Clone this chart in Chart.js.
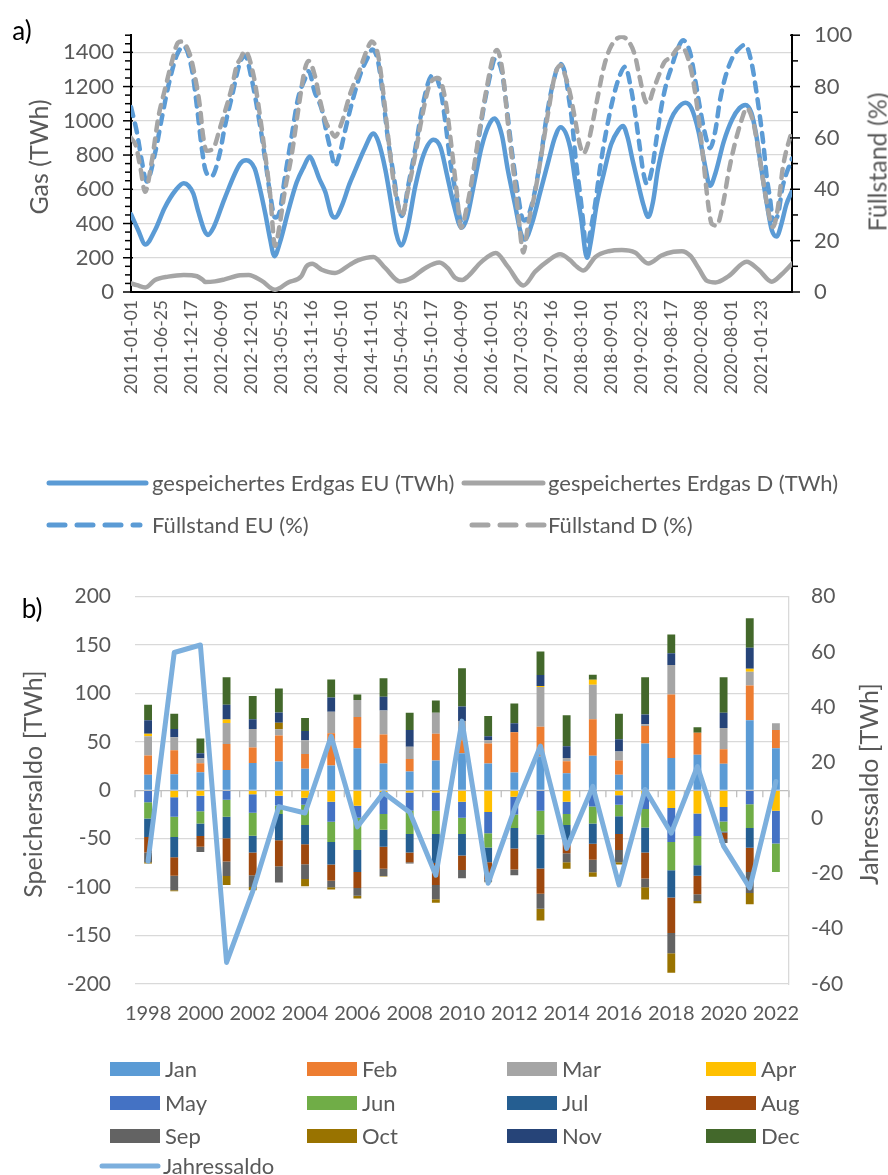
<!DOCTYPE html>
<html><head><meta charset="utf-8">
<script src="https://cdn.jsdelivr.net/npm/chart.js@4.4.1/dist/chart.umd.min.js"></script>
<style>
html,body{margin:0;padding:0;background:#fff;}
body{width:888px;height:1175px;position:relative;overflow:hidden;font-family:Lato,'Liberation Sans',sans-serif;color:#595959;}
canvas{position:absolute;left:0;}
#c1{top:0;}
#c2{top:560px;}
.rot{position:absolute;transform:translate(-50%,-50%) rotate(-90deg);white-space:nowrap;font-size:25px;color:#595959;line-height:1;}
.lg{position:absolute;font-size:22px;color:#595959;white-space:nowrap;line-height:1;transform:translateY(-50%);}
.lab{position:absolute;font-size:26px;color:#000;line-height:1;transform:translate(-50%,-50%);}
.sw{position:absolute;width:50px;height:14px;transform:translateY(-50%);}
svg{position:absolute;left:0;top:0;}
</style></head><body>
<canvas id="c1" width="888" height="420"></canvas>
<canvas id="c2" width="888" height="480"></canvas>
<div class="lab" style="left:22px;top:30px">a)</div>
<div class="lab" style="left:32px;top:608px">b)</div>
<div class="rot" style="left:38px;top:157px">Gas (TWh)</div>
<div class="rot" style="left:877px;top:162px">Füllstand (%)</div>
<div class="rot" style="left:32px;top:784px">Speichersaldo [TWh]</div>
<div class="rot" style="left:868px;top:784px">Jahressaldo [TWh]</div>
<svg width="888" height="1175">
 <line x1="49" y1="483" x2="146" y2="483" stroke="#5B9BD5" stroke-width="5" stroke-linecap="round"/>
 <line x1="464" y1="483" x2="543" y2="483" stroke="#A5A5A5" stroke-width="5" stroke-linecap="round"/>
 <line x1="49" y1="525" x2="140" y2="525" stroke="#5B9BD5" stroke-width="5" stroke-linecap="round" stroke-dasharray="16 12"/>
 <line x1="472" y1="525" x2="545" y2="525" stroke="#A5A5A5" stroke-width="5" stroke-linecap="round" stroke-dasharray="16 12"/>
 <line x1="102" y1="1166" x2="158" y2="1166" stroke="#7CAFDD" stroke-width="5" stroke-linecap="round"/>
</svg>
<div class="lg" style="left:152px;top:483px">gespeichertes Erdgas EU (TWh)</div>
<div class="lg" style="left:548px;top:483px">gespeichertes Erdgas D (TWh)</div>
<div class="lg" style="left:152px;top:525px">Füllstand EU (%)</div>
<div class="lg" style="left:548px;top:525px">Füllstand D (%)</div>
<div id="leg2"></div>
<div class="lg" style="left:163px;top:1166px">Jahressaldo</div>
<script>
// ---------- chart a) data ----------
const xTickLabels = ['2011-01-01','2011-06-25','2011-12-17','2012-06-09','2012-12-01','2013-05-25','2013-11-16','2014-05-10','2014-11-01','2015-04-25','2015-10-17','2016-04-09','2016-10-01','2017-03-25','2017-09-16','2018-03-10','2018-09-01','2019-02-23','2019-08-17','2020-02-08','2020-08-01','2021-01-23'];
const weeksPerTick = 25;   // weeks between date labels
const lastWeek = 550.8;    // weeks since 2011-01-01 at the right edge

const euGasWeeks = [0,6,12,20,28,37,44,48,52,56,61,64,69,78,91,96,103,107.5,112,116,119.5,124,131,138,144,149,153,157,162,167,170,176,182,187,195,202,206,212,217,221,225,230,237,244,252,258,263,269,275.5,280,285,292,298,303,309,314,320,325,328,334,341,348,353,358,366,370,375,380,383,388,394,400,406,410,414,418,423,427,431,435,439,445,450,455,462,467,473,478,482.5,487,494,501,507,512,517,521,525,530,534,538,542,546,550.8];
const euGas = [454,361,278,361,491,593,635,620,574,472,361,333,380,546,750,770,722,602,454,306,209,287,472,639,731,791,735,660,583,454,435,509,630,713,843,926,880,713,509,343,272,361,620,806,889,843,694,509,375,435,602,843,972,1013,917,713,509,340,306,398,583,769,898,963,843,657,435,200,287,509,694,861,944,969,898,769,620,509,439,528,713,898,1009,1070,1106,1074,935,750,620,694,880,1009,1074,1093,1046,917,732,509,361,324,398,509,590];

const dGasWeeks = [0,5,12,20,31,44,55,60,62,70,78,91,98,109,120,131,142,146,151,159,170,182.5,189,202,212,224,234,245,257,264,270,276,281,292,304,314,327,337,348,357.5,366,370,377,387,398,409,420,431,442,452,459,466,473,480,487,498,513,523,534,542,550.8];
const dGas = [50,40,27,70,90,100,92,70,58,62,74,98,100,65,13,56,93,148,165,130,111,160,185,205,139,62,83,139,172,139,83,70,93,176,228,148,38,120,185,220,185,157,125,205,238,246,231,167,213,235,238,212,139,65,56,93,176,130,60,102,165];

const euPctWeeks = [0,5,9,13,20,26,31,38,44,51,55,59,62,67,74,78,84,91,95,100.5,107.5,112,116,120,124,128,134,139,145,148,153,159,163,167,170,174,179,184,191,198,201,206,210,214,219,223,226,231,237,242,248,252,258,262,266,271,275.5,280,284,289.4,295,300.6,303,309,313,317,321.4,325.6,328,334,341,346.4,352,357.5,362,365,367,371,374,377,379.5,382.5,386.7,391,396.4,402,407.5,411.7,417,420,424,427,430,434,438,442,446,450,455,460,466,470,474,478,482.5,486.7,490.8,495,500.6,506,511.7,517,521,524,527,529.7,532.5,535,539,543,550.8];
const euPct = [72,62,51,43,54,68.5,80,92,95.7,86,72,56,47.5,45,54,64,76,89.5,92,83,65,51,38,29,31.5,44,61,75,83,86,78,71,62,54,49,54,64,73.5,84.6,92,94.4,89.5,76,60,45,33,29.6,41.4,56,70,82,84.6,78.4,66,51,37.7,27,30,41.4,58.6,74.7,87,90.7,85.8,72.2,56.2,41.4,29.5,27.8,34,51,68.5,82,88.9,84.6,75,68.5,50,39,26.5,15,22.8,34,48.8,63.6,76,84.6,87.7,78.4,69.8,56.2,46.3,42,47.5,60,72.2,81,87,94,98,93,83,72,62.3,56,62.3,74.7,83.3,90.7,94.4,96.3,89.5,78.4,68.5,57.4,45,36.4,28,30,41,52];

const dPctWeeks = [0,4,8,11.7,17,23,28,34,39,42,49,53,57.5,60,63,68.6,74,78,84,88,91,95,102,107.5,111.7,116,120,124,128,134,139,145,148,153,157.5,161.7,167,170,175.6,182.5,191,196.7,200.6,206,210,214.4,218.6,223,225.6,231,237,242,249,256,262,267.2,271.4,275,279.7,285,290.6,296,301.7,305,310,314,318.6,323,325.6,327,331,336.7,342,348,353.3,358,362,366,370,374,377,380.6,384.7,388.9,394.4,400,409,415.6,420,424,428.3,431,435,440,444.4,450,455.6,459,464.4,468.6,472.8,477,481,484,488,493.6,497.8,503,509,513,518.6,522.8,527,531,535,539,543.3,550.8];
const dPct = [60,57,48,39,50,68.5,78.4,89.5,97,97.5,92.6,84.6,72,61,55,56,63.6,69.8,79.6,88,90.7,93.8,84.6,68.5,53.7,37.7,18,26.5,38.9,53.7,69.8,87,90,84.6,74.7,67,62.3,60.5,66,77,87,94.4,97.5,92,78.4,60,43.8,32.7,29.6,40,53.7,67,80.9,83.3,74.7,56,39,25,32.7,46.3,63.6,78.4,91.4,94.2,84.6,66,47.5,29,18,15.4,26.5,38.9,53.7,71,84.6,88.3,84,77,67.3,57.4,54,57.4,66,76,88.3,95.7,99.4,96.9,92,83.3,74.7,73.5,78.4,84.6,89.5,91.4,95,95.4,90.7,82,68.5,51.2,34,26.5,25.9,35,46.3,57.4,67.3,71.6,66,55,42.6,31.5,25.3,32.7,48.8,63];

// ---------- chart b) data ----------
const years = ['1998','1999','2000','2001','2002','2003','2004','2005','2006','2007','2008','2009','2010','2011','2012','2013','2014','2015','2016','2017','2018','2019','2020','2021','2022'];
const monthNames = ['Jan','Feb','Mar','Apr','May','Jun','Jul','Aug','Sep','Oct','Nov','Dec'];
const jan = [16,16.7,18.7,21,28.3,29.7,22.3,25.7,43.3,27.7,19.3,30.7,38.3,27.7,18.3,35,17.7,35.7,16,48.3,33.3,36.7,27.3,72.3,43.3];
const feb = [20,24.7,9.3,26.7,16,27,15.3,33.3,32.3,30,13,27.7,13.3,20.7,41.7,30.7,12.3,37.7,14.7,18,65.7,22.7,15,36,19];
const mar = [19.7,13.3,5,21.7,19,6.3,14,22,17.7,24.7,12.7,21.7,20,3.3,0,41,3.3,35.7,9.3,2,30.3,0,22,14,7];
const apr = [2.7,-7.3,-5.7,3.7,-4,-5.7,-7.7,-11.7,-16,-1.7,-2.3,-2.3,-11.7,-22.3,-6.7,1,-11.7,5,-5,-5,-18.3,-24,-17.3,3.3,-21];
const may = [-12.3,-20,-16,-9.7,-19.3,-10,-7.3,-20.7,-12.3,-22.7,-18.7,-18.7,-16.7,-22,-18.3,-21,-12.7,-16.7,-10,-14.3,-35,-23.3,-15,-14.3,-34];
const jun = [-16.7,-21,-12.7,-17.7,-23.7,-8.7,-20.7,-21,-33.3,-16.3,-24,-24,-16.7,-14.7,-14,-24.7,-11.3,-17.7,-11.7,-19,-29.3,-30,-10.3,-24.7,-29.3];
const jul = [-19.3,-20.7,-12.7,-22,-17.3,-27.3,-20,-23.3,-22.7,-17.7,-19.3,-30,-22.3,-15.3,-21,-35,-16,-20.7,-18.3,-26,-28,-11,-1,-20.3,null];
const aug = [-16,-19.3,-11.3,-24,-23.3,-26.7,-20.7,-16.7,-16.7,-22.7,-10,-22.7,-15,-18,-21.7,-26,-13.3,-16.7,-16.7,-26.7,-36.7,-19,-6.7,-25,null];
const sep = [-10,-15,-5.3,-15,-12.3,-16.7,-15.3,-6.7,-8,-7.3,-1.3,-14.7,-8.3,-2,-6,-15.7,-9.3,-12.7,-12.7,-9,-21,-7,-4,-21.7,null];
const oct = [-1.3,-1,0,-9.3,-3.3,6.7,-7.3,-2.3,-2.7,-0.7,0,-3.7,0,-0.7,0,-12,-6.7,-4.7,-2.3,-12.7,-20,-2.3,0,-11.7,null];
const nov = [14,8.7,5.3,15.3,10,10.7,9.7,14.7,0,14.3,17.3,0,15,4,9.3,11.3,12.3,0,12.7,10,12.3,0,15.7,21.7,null];
const dec = [16,15.7,15.3,28.3,24,24.7,13.3,18.7,5.7,19,17.7,12.7,39.3,21,20.3,24.3,32,5.3,26.3,38.3,19.3,5.7,36.7,30.3,null];
const jahressaldo = [-15.6,59.8,62.5,-52.2,-26.5,4.1,1.8,29.5,-3.2,9.1,2.1,-20.7,35,-23.6,3,26,-11,11.4,-24.2,10.3,-5.5,18.6,-10.2,-25.3,13.2];

const monthColors = ['#5B9BD5','#ED7D31','#A5A5A5','#FFC000','#4472C4','#70AD47','#255E91','#9E480E','#636363','#997300','#264478','#43682B'];
const FONT = 'Lato';
const GRAY = '#595959';
Chart.defaults.font.family = FONT;
Chart.defaults.color = GRAY;

function pts(w, v){ return w.map((x,i)=>({x:x, y:v[i]})); }
const plain = v => String(v);

const axisTicks = {
  id:'axisTicks',
  afterDraw(chart){
    const {ctx, scales:{y, y2}} = chart;
    ctx.save(); ctx.strokeStyle = '#000'; ctx.lineWidth = 1.5;
    for (let v = 0; v <= 1500; v += 50) {
      const py = y.getPixelForValue(v), major = v % 200 === 0;
      ctx.beginPath(); ctx.moveTo(y.right - (major ? 8 : 6), py); ctx.lineTo(y.right + (major ? 2 : 0), py); ctx.stroke();
    }
    for (let v = 0; v <= 100; v += 10) {
      const py = y2.getPixelForValue(v), major = v % 20 === 0;
      ctx.beginPath(); ctx.moveTo(y2.left - (major ? 2 : 0), py); ctx.lineTo(y2.left + (major ? 8 : 6), py); ctx.stroke();
    }
    ctx.restore();
  }
};

const lineBase = {pointRadius:0, borderWidth:4.5, borderCapStyle:'round', borderJoinStyle:'round', cubicInterpolationMode:'monotone', fill:false};

new Chart(document.getElementById('c1'), {
  type:'line',
  data:{datasets:[
    Object.assign({label:'Füllstand D (%)', data:pts(dPctWeeks,dPct), yAxisID:'y2', borderColor:'#A5A5A5', borderDash:[9,8], order:0}, lineBase),
    Object.assign({label:'Füllstand EU (%)', data:pts(euPctWeeks,euPct), yAxisID:'y2', borderColor:'#5B9BD5', borderDash:[9,8], order:1}, lineBase),
    Object.assign({label:'gespeichertes Erdgas D (TWh)', data:pts(dGasWeeks,dGas), yAxisID:'y', borderColor:'#A5A5A5', order:2}, lineBase),
    Object.assign({label:'gespeichertes Erdgas EU (TWh)', data:pts(euGasWeeks,euGas), yAxisID:'y', borderColor:'#5B9BD5', order:3}, lineBase)
  ]},
  options:{
    responsive:false, animation:false, devicePixelRatio:1,
    layout:{padding:{top:22, left:0, right:0, bottom:0}},
    plugins:{legend:{display:false}, tooltip:{enabled:false}},
    scales:{
      x:{type:'linear', min:0, max:lastWeek,
         grid:{display:false, drawTicks:false},
         border:{display:true, color:'#000', width:2},
         afterBuildTicks:s=>{ s.ticks = xTickLabels.map((_,i)=>({value:i*weeksPerTick})); },
         ticks:{autoSkip:false, minRotation:90, maxRotation:90, padding:8, color:GRAY, font:{size:17.5}, callback:(v,i)=>xTickLabels[i]},
         afterFit:s=>{ s.height = 128; }},
      y:{position:'left', min:0, max:1500,
         afterBuildTicks:s=>{ s.ticks = [0,200,400,600,800,1000,1200,1400].map(v=>({value:v})); },
         grid:{color:'#D9D9D9', lineWidth:1.3, drawTicks:false},
         border:{display:true, color:'#000', width:2},
         ticks:{padding:17, color:GRAY, font:{size:22}, callback:plain},
         afterFit:s=>{ s.width = 131; }},
      y2:{position:'right', min:0, max:100,
         afterBuildTicks:s=>{ s.ticks = [0,20,40,60,80,100].map(v=>({value:v})); },
         grid:{display:false, drawTicks:false},
         border:{display:true, color:'#000', width:2},
         ticks:{padding:22, color:GRAY, font:{size:22}, callback:plain},
         afterFit:s=>{ s.width = 96; }}
    }
  },
  plugins:[axisTicks]
});

// ---------- chart b) ----------
const monthSeries = [jan,feb,mar,apr,may,jun,jul,aug,sep,oct,nov,dec];
const zeroTicks = {
  id:'zeroTicks',
  beforeDatasetsDraw(chart){
    const {ctx, scales:{x, y}} = chart;
    const y0 = y.getPixelForValue(0);
    const step = x.getPixelForValue(1) - x.getPixelForValue(0);
    ctx.save(); ctx.strokeStyle = '#BFBFBF'; ctx.lineWidth = 1.3;
    for (let i = 0; i <= years.length; i++) {
      const px = x.getPixelForValue(i) - step/2;
      ctx.beginPath(); ctx.moveTo(px, y0); ctx.lineTo(px, y0 + 7); ctx.stroke();
    }
    ctx.restore();
  }
};

const barSets = monthSeries.map((d,i)=>({type:'bar', label:monthNames[i], data:d, backgroundColor:monthColors[i], borderWidth:0, yAxisID:'y', order:1, barPercentage:0.3, categoryPercentage:1}));
new Chart(document.getElementById('c2'), {
  data:{labels:years, datasets:[
    {type:'line', label:'Jahressaldo', data:jahressaldo, yAxisID:'y2', borderColor:'#7CAFDD', borderWidth:5, pointRadius:0, tension:0, borderJoinStyle:'round', borderCapStyle:'round', order:0}
  ].concat(barSets)},
  options:{
    responsive:false, animation:false, devicePixelRatio:1,
    layout:{padding:{top:24, left:0, right:0, bottom:0}},
    plugins:{legend:{display:false}, tooltip:{enabled:false}},
    scales:{
      x:{stacked:true, grid:{display:false, drawTicks:false}, border:{display:false},
         ticks:{autoSkip:false, maxRotation:0, minRotation:0, padding:18, color:GRAY, font:{size:20}, callback:(v,i)=> i%2===0 ? years[i] : ''},
         afterFit:s=>{ s.height = 56; }},
      y:{stacked:true, position:'left', min:-200, max:200,
         ticks:{stepSize:50, padding:24, color:GRAY, font:{size:21}, callback:plain},
         grid:{color:c=> c.tick && c.tick.value===0 ? '#BFBFBF' : '#D9D9D9', lineWidth:1.3, drawTicks:false},
         border:{display:false},
         afterFit:s=>{ s.width = 135; }},
      y2:{position:'right', min:-60, max:80,
         ticks:{stepSize:20, padding:22, color:GRAY, font:{size:21}, callback:plain},
         grid:{display:false, drawTicks:false},
         border:{display:true, color:'#D9D9D9', width:1.3},
         afterFit:s=>{ s.width = 99; }}
    }
  },
  plugins:[zeroTicks]
});

// legend b)
(function(){
  const leg = document.getElementById('leg2');
  const colX = [110, 307, 507, 706];
  const rowY = [1069, 1103, 1136];
  monthNames.forEach((m,i)=>{
    const c = i % 4, r = Math.floor(i/4);
    const sw = document.createElement('div');
    sw.className = 'sw'; sw.style.left = colX[c]+'px'; sw.style.top = rowY[r]+'px'; sw.style.background = monthColors[i];
    leg.appendChild(sw);
    const t = document.createElement('div');
    t.className = 'lg'; t.style.left = (colX[c]+55)+'px'; t.style.top = rowY[r]+'px'; t.textContent = m;
    leg.appendChild(t);
  });
})();
</script>
</body></html>
